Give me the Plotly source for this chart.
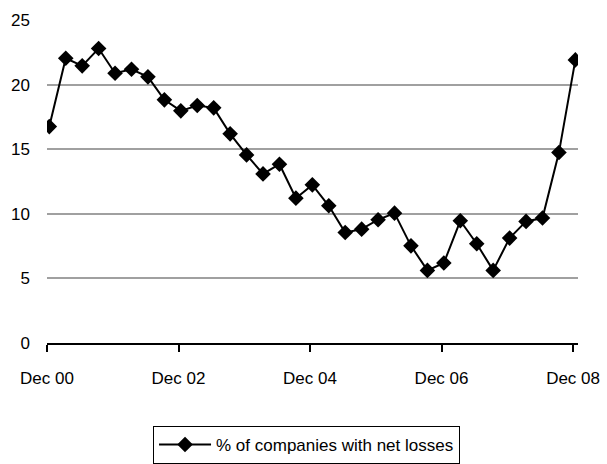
import plotly.graph_objects as go

quarters = list(range(33))
values = [16.75, 22.04, 21.45, 22.79, 20.88, 21.19, 20.6, 18.82, 17.97, 18.38,
          18.2, 16.19, 14.56, 13.09, 13.84, 11.21, 12.24, 10.62, 8.55, 8.81,
          9.54, 10.05, 7.52, 5.62, 6.19, 9.46, 7.68, 5.62, 8.12, 9.41,
          9.67, 14.74, 21.91]
tick_positions = [-0.14, 7.86, 15.86, 23.86, 31.86]
tick_labels = ["Dec 00", "Dec 02", "Dec 04", "Dec 06", "Dec 08"]
series_name = "% of companies with net losses"

FONT = "Liberation Sans, Arial, sans-serif"

fig = go.Figure()
fig.add_trace(go.Scatter(
    x=quarters, y=values, mode="lines+markers", name=series_name,
    line=dict(color="black", width=2),
    marker=dict(symbol="diamond", size=12, color="black"),
))

fig.update_layout(
    width=607, height=464,
    margin=dict(l=47, r=29, t=20, b=121, autoexpand=False),
    paper_bgcolor="white", plot_bgcolor="white",
    font=dict(family=FONT, size=17, color="black"),
    showlegend=True,
    legend=dict(
        orientation="v", xref="container", x=0.505, xanchor="center",
        yref="container", y=1 - 426 / 464, yanchor="top",
        bordercolor="black", borderwidth=1, bgcolor="white",
        font=dict(family=FONT, size=17, color="black"),
        itemwidth=52,
    ),
    xaxis=dict(
        range=[-0.14, 32.16], tickmode="array", tickvals=tick_positions,
        ticktext=tick_labels, showgrid=False, zeroline=False,
        showline=True, linecolor="black", linewidth=2,
        ticks="outside", ticklen=7, tickwidth=2, tickcolor="black",
        ticklabelstandoff=12, tickangle=0,
    ),
    yaxis=dict(
        range=[0, 25], tickmode="array", tickvals=[0, 5, 10, 15, 20, 25],
        showgrid=True, gridcolor="#a0a0a0", gridwidth=2,
        zeroline=False, showline=False, ticks="",
        ticklabelstandoff=16,
    ),
)

fig.write_html("out.html")
